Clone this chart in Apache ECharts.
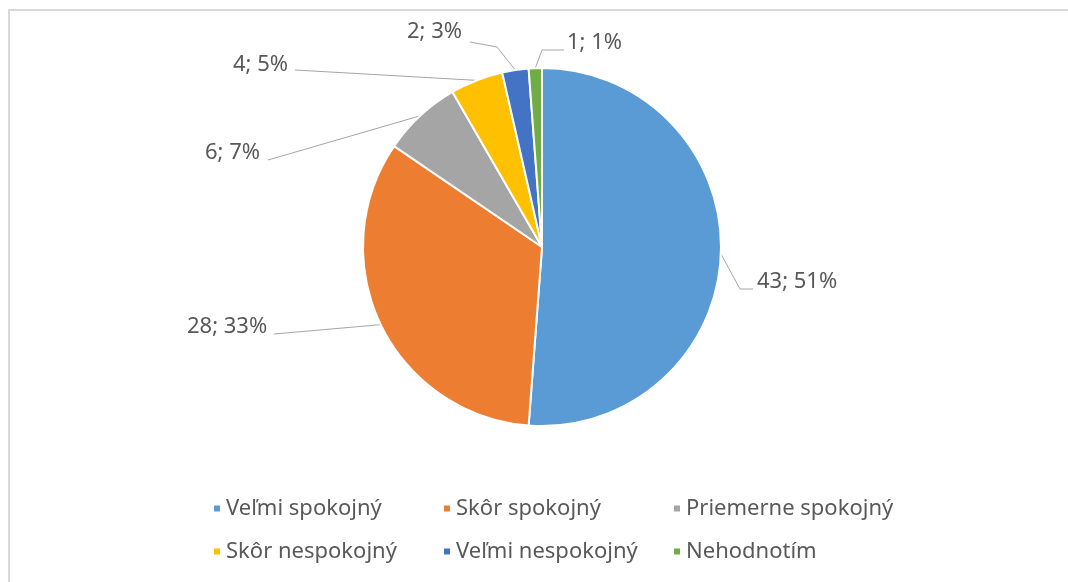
<!DOCTYPE html>
<html>
<head>
<meta charset="utf-8">
<script src="https://cdn.jsdelivr.net/npm/echarts@6/dist/echarts.min.js"></script>
<style>
  html, body { margin: 0; padding: 0; background: #ffffff; }
  #chart { width: 1068px; height: 582px; }
</style>
</head>
<body>
<div id="chart"></div>
<script>
// Satisfaction survey: answer categories and number of respondents
const categories = ['Veľmi spokojný', 'Skôr spokojný', 'Priemerne spokojný', 'Skôr nespokojný', 'Veľmi nespokojný', 'Nehodnotím'];
const counts = [43, 28, 6, 4, 2, 1];
const sliceColors = ['#5B9BD5', '#ED7D31', '#A5A5A5', '#FFC000', '#4472C4', '#70AD47'];

// Placement of each value label (left edge, vertical middle) and its leader elbow/end
const labelAnchors = [[757, 282], [187, 327], [205, 153], [233, 65], [407, 32], [567, 43]];
const leaderElbows = [[740, 289], [274, 334], [268, 160], [295, 70], [497, 47], [542, 50]];
const leaderEnds = [[753, 289], [274, 334], [268, 160], [295, 70], [470, 42], [564, 50]];

const chart = echarts.init(document.getElementById('chart'), null, { renderer: 'canvas' });

chart.setOption({
  animation: false,
  backgroundColor: '#ffffff',
  color: sliceColors,
  textStyle: { fontFamily: 'Noto Sans' },
  graphic: [{
    type: 'rect',
    shape: { x: 9, y: 10, width: 1100, height: 620 },
    style: { fill: 'none', stroke: '#d9d9d9', lineWidth: 2 },
    silent: true
  }],
  legend: {
    data: categories,
    left: 212,
    top: 494,
    width: 690,
    padding: 0,
    orient: 'horizontal',
    icon: 'rect',
    itemWidth: 8,
    itemHeight: 8,
    itemGap: 14,
    textStyle: {
      color: '#595959',
      fontSize: 22,
      fontFamily: 'Noto Sans',
      width: 202,
      lineHeight: 29
    }
  },
  series: [{
    type: 'pie',
    center: [542, 247],
    radius: 179,
    startAngle: 90,
    clockwise: true,
    percentPrecision: 0,
    avoidLabelOverlap: false,
    itemStyle: { borderColor: '#ffffff', borderWidth: 2 },
    data: categories.map((name, i) => ({ name: name, value: counts[i] })),
    label: {
      show: true,
      position: 'outside',
      color: '#595959',
      fontSize: 22,
      fontFamily: 'Noto Sans',
      formatter: '{c}; {d}%'
    },
    labelLine: {
      show: true,
      length: 15,
      length2: 10,
      smooth: false,
      lineStyle: { color: '#a6a6a6', width: 1 }
    },
    labelLayout: function (params) {
      const i = params.dataIndex;
      const start = params.labelLinePoints ? params.labelLinePoints[0] : leaderElbows[i];
      return {
        x: labelAnchors[i][0],
        y: labelAnchors[i][1],
        align: 'left',
        verticalAlign: 'middle',
        labelLinePoints: [start, leaderElbows[i], leaderEnds[i]]
      };
    },
    emphasis: { disabled: true }
  }]
});
</script>
</body>
</html>
